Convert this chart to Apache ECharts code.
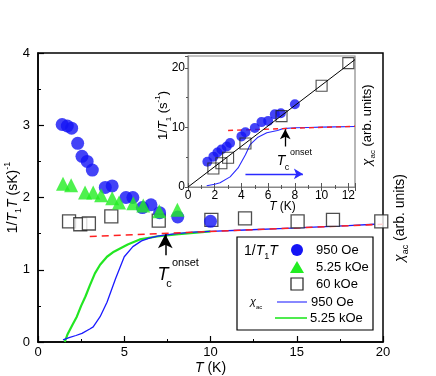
<!DOCTYPE html>
<html>
<head>
<meta charset="utf-8">
<script src="https://cdn.jsdelivr.net/npm/echarts@6/dist/echarts.min.js"></script>
<style>
  html, body { margin: 0; padding: 0; background: #fff; }
  #chart { width: 436px; height: 376px; }
</style>
</head>
<body>
<div id="chart"></div>
<script>
// main panel: 1/T1T (sK)^-1 vs T (K)
const T_950 = [1.4, 1.7, 1.95, 2.3, 2.55, 2.85, 3.15, 3.9, 4.3, 5.1, 5.5, 6.05, 6.55, 7.05, 8.1, 10.0];
const r_950 = [3.01, 2.99, 2.96, 2.75, 2.57, 2.5, 2.38, 2.14, 2.16, 2.0, 2.0, 1.86, 1.9, 1.79, 1.73, 1.67];
const T_525 = [1.45, 1.92, 2.73, 3.2, 3.66, 4.3, 4.7, 5.52, 6.1, 7.03, 8.08];
const r_525 = [2.19, 2.17, 2.07, 2.07, 2.03, 1.99, 1.93, 1.92, 1.89, 1.81, 1.83];
const T_60k = [1.8, 2.45, 2.95, 4.25, 7.0, 10.05, 12.0, 15.05, 17.1, 19.9];
const r_60k = [1.67, 1.63, 1.64, 1.74, 1.68, 1.69, 1.71, 1.67, 1.69, 1.67];

// chi_ac curves (right axis, arb. units)
const chiT_950 = [1.45, 1.8, 2.2, 2.55, 3.0, 3.2, 3.6, 4.0, 4.5, 5.0, 5.5, 6.0, 6.5, 7.0, 8, 9, 10, 12, 14, 16, 18, 19.5];
const chi_950 = [0.03, 0.06, 0.09, 0.12, 0.18, 0.21, 0.35, 0.55, 0.88, 1.18, 1.32, 1.4, 1.44, 1.47, 1.5, 1.52, 1.53, 1.55, 1.57, 1.59, 1.61, 1.63];
const chiT_525 = [1.55, 1.7, 2.0, 2.25, 2.5, 2.75, 3.0, 3.3, 3.6, 4.0, 4.4, 5.2, 5.9, 6.9, 8, 9, 10];
const chi_525 = [0.0, 0.1, 0.24, 0.35, 0.5, 0.63, 0.78, 0.95, 1.07, 1.18, 1.25, 1.35, 1.42, 1.46, 1.49, 1.51, 1.53];
const normT = [3.0, 20.0];
const norm = [1.46, 1.63];

// inset: 1/T1 (s^-1) vs T (K)
const Ti_950 = [1.45, 1.9, 2.2, 2.5, 2.9, 3.15, 4.0, 4.3, 5.0, 5.5, 6.0, 6.5, 6.95, 8.0];
const w_950 = [4.25, 5.1, 5.8, 6.3, 6.8, 7.4, 8.5, 9.2, 9.9, 10.9, 11.1, 12.2, 12.4, 13.9];
const Ti_60k = [1.9, 2.5, 3.0, 4.3, 7.0, 10.0, 12.0];
const w_60k = [3.1, 4.0, 4.9, 7.3, 11.9, 17.0, 20.8];
const fitT = [0, 12.5];
const fitW = [0, 21.4];
const chiT_in = [1.4, 2.0, 2.4, 3.15, 3.75, 4.3, 4.65, 5.2, 5.9, 6.7, 7.1, 8, 9, 10, 11, 12.5];
const chi_in = [0.2, 0.45, 0.7, 1.7, 3.2, 5.4, 7.1, 8.3, 9.1, 9.5, 9.8, 9.95, 10.0, 10.05, 10.1, 10.15];
const normT_in = [3.0, 12.5];
const norm_in = [9.5, 10.2];

const FONT = 'Liberation Sans';
const zip = (xs, ys) => xs.map((x, i) => [x, ys[i]]);

const richTxt = (size) => ({
  n: { fontSize: size, fontFamily: FONT, color: '#000', lineHeight: size + 6 },
  i: { fontSize: size, fontFamily: FONT, fontStyle: 'italic', color: '#000', lineHeight: size + 6 },
  s: { fontSize: size - 5, fontFamily: FONT, color: '#000', verticalAlign: 'bottom', lineHeight: size + 6 },
  p: { fontSize: size - 5, fontFamily: FONT, color: '#000', verticalAlign: 'top', lineHeight: size + 6 }
});

const chart = echarts.init(document.getElementById('chart'));

const option = {
  animation: false,
  backgroundColor: '#fff',
  grid: [
    { left: 38, right: 53, top: 53, bottom: 34, show: true, borderColor: '#000', borderWidth: 1.5, outerBoundsMode: 'none', containLabel: false },
    { left: 188, right: 81, top: 56, bottom: 189, show: true, borderColor: '#888', borderWidth: 1.2, backgroundColor: '#fff', outerBoundsMode: 'none', containLabel: false }
  ],
  xAxis: [
    {
      gridIndex: 0, type: 'value', min: 0, max: 20, interval: 5,
      name: '{i|T}{n| (K)}', nameLocation: 'middle', nameGap: 16, nameMoveOverlap: false,
      nameTextStyle: { rich: richTxt(14) },
      axisLine: { lineStyle: { color: '#000', width: 1.5 } },
      axisTick: { inside: true, length: 6, lineStyle: { color: '#000', width: 1.2 } },
      minorTick: { show: true, splitNumber: 2, length: 3, lineStyle: { color: '#000', width: 1 } },
      axisLabel: { color: '#000', fontSize: 13, fontFamily: FONT, margin: 4 },
      splitLine: { show: false }
    },
    {
      gridIndex: 1, type: 'value', min: 0, max: 12.5, interval: 2,
      name: '{i|T}{n| (K)}', nameLocation: 'middle', nameGap: 11, nameMoveOverlap: false,
      nameTextStyle: { rich: richTxt(12), padding: [0, 0, 0, 22] },
      axisLine: { lineStyle: { color: '#888', width: 1.2 } },
      axisTick: { inside: true, length: 4, lineStyle: { color: '#555' } },
      minorTick: { show: true, splitNumber: 2, length: 2, lineStyle: { color: '#555' } },
      axisLabel: { color: '#000', fontSize: 12, fontFamily: FONT, margin: 3, showMaxLabel: false },
      splitLine: { show: false }
    },
    {
      gridIndex: 1, type: 'value', min: 0, max: 12.5, interval: 2, position: 'top',
      axisLine: { lineStyle: { color: '#888', width: 1.2 } },
      axisTick: { inside: true, length: 4, lineStyle: { color: '#555' } },
      minorTick: { show: true, splitNumber: 2, length: 2, lineStyle: { color: '#555' } },
      axisLabel: { show: false },
      splitLine: { show: false }
    }
  ],
  yAxis: [
    {
      gridIndex: 0, type: 'value', min: 0, max: 4, interval: 1,
      name: '{n|1/}{i|T}{s|1}{i|T}{n| (sK)}{p|-1}', nameLocation: 'middle', nameGap: 15, nameRotate: 90,
      nameMoveOverlap: false,
      nameTextStyle: { rich: richTxt(14) },
      axisLine: { lineStyle: { color: '#000', width: 1.5 } },
      axisTick: { inside: true, length: 6, lineStyle: { color: '#000', width: 1.2 } },
      minorTick: { show: true, splitNumber: 2, length: 3, lineStyle: { color: '#000', width: 1 } },
      axisLabel: { color: '#000', fontSize: 13, fontFamily: FONT, margin: 8 },
      splitLine: { show: false }
    },
    {
      gridIndex: 0, type: 'value', min: 0, max: 4, position: 'right',
      axisLine: { show: false }, axisTick: { show: false }, axisLabel: { show: false }, splitLine: { show: false }
    },
    {
      gridIndex: 1, type: 'value', min: 0, max: 22, interval: 10,
      name: '{n|1/}{i|T}{s|1}{n| (s}{p|-1}{n|)}', nameLocation: 'middle', nameGap: 15, nameRotate: 90,
      nameMoveOverlap: false,
      nameTextStyle: { rich: richTxt(13), padding: [0, 0, 0, 12] },
      axisLine: { lineStyle: { color: '#888', width: 1.2 } },
      axisTick: { inside: false, length: 3, lineStyle: { color: '#555' } },
      minorTick: { show: true, splitNumber: 2, length: 2, lineStyle: { color: '#555' } },
      axisLabel: { color: '#000', fontSize: 12, fontFamily: FONT, margin: 3, showMaxLabel: false },
      splitLine: { show: false }
    },
    {
      gridIndex: 1, type: 'value', min: 0, max: 22, position: 'right',
      axisLine: { show: false }, axisTick: { show: false }, axisLabel: { show: false }, splitLine: { show: false }
    }
  ],
  series: [
    // main panel chi_ac
    {
      type: 'line', xAxisIndex: 0, yAxisIndex: 1, data: zip(chiT_525, chi_525),
      showSymbol: false, lineStyle: { color: '#22e622', width: 2.2 }, z: 2
    },
    {
      type: 'line', xAxisIndex: 0, yAxisIndex: 1, data: zip(chiT_950, chi_950),
      showSymbol: false, lineStyle: { color: '#1a1aff', width: 1.3 }, z: 2
    },
    {
      type: 'line', xAxisIndex: 0, yAxisIndex: 1, data: zip(normT, norm),
      showSymbol: false, lineStyle: { color: '#ff2020', width: 1.6, type: [7, 5] }, z: 3,
      markLine: {
        silent: true, symbol: ['none', 'arrow'], symbolSize: [11, 14],
        label: { show: false },
        lineStyle: { color: '#000', width: 1.5, type: 'solid' },
        data: [[{ coord: [7.38, 1.2] }, { coord: [7.38, 1.49] }]]
      }
    },
    // main panel symbols
    {
      type: 'scatter', xAxisIndex: 0, yAxisIndex: 0, data: zip(T_60k, r_60k),
      symbol: 'rect', symbolSize: 13,
      itemStyle: { color: '#fff', borderColor: '#222', borderWidth: 1.3 }, z: 4
    },
    {
      type: 'scatter', xAxisIndex: 0, yAxisIndex: 0, data: zip(T_950, r_950),
      symbol: 'circle', symbolSize: 13, itemStyle: { color: '#1414f5' }, z: 5
    },
    {
      type: 'scatter', xAxisIndex: 0, yAxisIndex: 0, data: zip(T_525, r_525),
      symbol: 'triangle', symbolSize: 14, itemStyle: { color: '#22ee22' }, z: 6
    },
    // inset
    {
      type: 'line', xAxisIndex: 1, yAxisIndex: 3, data: zip(chiT_in, chi_in),
      showSymbol: false, lineStyle: { color: '#2a2aff', width: 1.1 }, z: 2,
      markLine: {
        silent: true, symbol: ['none', 'arrow'], symbolSize: [8, 9],
        label: { show: false },
        lineStyle: { color: '#2a2aff', width: 1.3, type: 'solid' },
        data: [[{ coord: [4.3, 2.2] }, { coord: [8.6, 2.2] }]]
      }
    },
    {
      type: 'line', xAxisIndex: 1, yAxisIndex: 3, data: zip(normT_in, norm_in),
      showSymbol: false, lineStyle: { color: '#ff2020', width: 1.4, type: [5, 4] }, z: 3,
      markLine: {
        silent: true, symbol: ['none', 'arrow'], symbolSize: [8, 10],
        label: { show: false },
        lineStyle: { color: '#000', width: 1.3, type: 'solid' },
        data: [[{ coord: [7.28, 6.8] }, { coord: [7.28, 9.7] }]]
      }
    },
    {
      type: 'scatter', xAxisIndex: 1, yAxisIndex: 2, data: zip(Ti_950, w_950),
      symbol: 'circle', symbolSize: 10, itemStyle: { color: '#1414f5' }, z: 4
    },
    {
      type: 'scatter', xAxisIndex: 1, yAxisIndex: 2, data: zip(Ti_60k, w_60k),
      symbol: 'rect', symbolSize: 11,
      itemStyle: { color: 'rgba(255,255,255,0)', borderColor: '#222', borderWidth: 1.1 }, z: 5
    },
    {
      type: 'line', xAxisIndex: 1, yAxisIndex: 2, data: zip(fitT, fitW),
      showSymbol: false, lineStyle: { color: '#000', width: 1 }, z: 6
    }
  ],
  graphic: [
    // right-axis labels
    {
      type: 'text', x: 400, y: 218, rotation: Math.PI / 2,
      style: {
        text: '{c|χ}{s|ac}{n| (arb. units)}', align: 'center', verticalAlign: 'middle',
        rich: Object.assign(richTxt(14), { c: { fontSize: 14, fontFamily: FONT, fontStyle: 'italic', lineHeight: 20 } })
      }
    },
    {
      type: 'text', x: 367, y: 125, rotation: Math.PI / 2,
      style: {
        text: '{c|χ}{s|ac}{n| (arb. units)}', align: 'center', verticalAlign: 'middle',
        rich: Object.assign(richTxt(13), { c: { fontSize: 13, fontFamily: FONT, fontStyle: 'italic', lineHeight: 19 } })
      }
    },
    // Tc onset labels
    { type: 'text', x: 163, y: 275, style: { text: 'T', font: 'italic 18px ' + FONT, align: 'center', verticalAlign: 'middle', fill: '#000' } },
    { type: 'text', x: 169, y: 284, style: { text: 'c', font: '11px ' + FONT, align: 'center', verticalAlign: 'middle', fill: '#000' } },
    { type: 'text', x: 172, y: 263, style: { text: 'onset', font: '11px ' + FONT, align: 'left', verticalAlign: 'middle', fill: '#000' } },
    { type: 'text', x: 281, y: 161, style: { text: 'T', font: 'italic 14px ' + FONT, align: 'center', verticalAlign: 'middle', fill: '#000' } },
    { type: 'text', x: 287, y: 168, style: { text: 'c', font: '9px ' + FONT, align: 'center', verticalAlign: 'middle', fill: '#000' } },
    { type: 'text', x: 290, y: 153, style: { text: 'onset', font: '9px ' + FONT, align: 'left', verticalAlign: 'middle', fill: '#000' } },
    // legend
    { type: 'rect', shape: { x: 237, y: 237, width: 136, height: 93 }, style: { fill: '#fff', stroke: '#000', lineWidth: 1.2 }, z: 10 },
    {
      type: 'text', x: 244, y: 251, z: 11,
      style: { text: '{n|1/}{i|T}{s|1}{i|T}', align: 'left', verticalAlign: 'middle', rich: richTxt(14) }
    },
    { type: 'circle', shape: { cx: 297, cy: 250, r: 6 }, style: { fill: '#1414f5' }, z: 11 },
    { type: 'text', x: 316, y: 250, z: 11, style: { text: '950 Oe', font: '13px ' + FONT, align: 'left', verticalAlign: 'middle', fill: '#000' } },
    { type: 'polygon', shape: { points: [[290, 273], [304, 273], [297, 261]] }, style: { fill: '#22ee22' }, z: 11 },
    { type: 'text', x: 316, y: 267, z: 11, style: { text: '5.25 kOe', font: '13px ' + FONT, align: 'left', verticalAlign: 'middle', fill: '#000' } },
    { type: 'rect', shape: { x: 291, y: 278, width: 12, height: 12 }, style: { fill: '#fff', stroke: '#222', lineWidth: 1.2 }, z: 11 },
    { type: 'text', x: 316, y: 284, z: 11, style: { text: '60 kOe', font: '13px ' + FONT, align: 'left', verticalAlign: 'middle', fill: '#000' } },
    {
      type: 'text', x: 250, y: 302, z: 11,
      style: {
        text: '{c|χ}{s|ac}', align: 'left', verticalAlign: 'middle',
        rich: Object.assign(richTxt(11), { c: { fontSize: 11, fontFamily: FONT, fontStyle: 'italic', lineHeight: 17 } })
      }
    },
    { type: 'line', shape: { x1: 277, y1: 302, x2: 307, y2: 302 }, style: { stroke: '#6a6aff', lineWidth: 1.6 }, z: 11 },
    { type: 'text', x: 311, y: 302, z: 11, style: { text: '950 Oe', font: '13px ' + FONT, align: 'left', verticalAlign: 'middle', fill: '#000' } },
    { type: 'line', shape: { x1: 275, y1: 318, x2: 307, y2: 318 }, style: { stroke: '#22e622', lineWidth: 1.6 }, z: 11 },
    { type: 'text', x: 310, y: 318, z: 11, style: { text: '5.25 kOe', font: '13px ' + FONT, align: 'left', verticalAlign: 'middle', fill: '#000' } }
  ]
};

chart.setOption(option);
</script>
</body>
</html>
